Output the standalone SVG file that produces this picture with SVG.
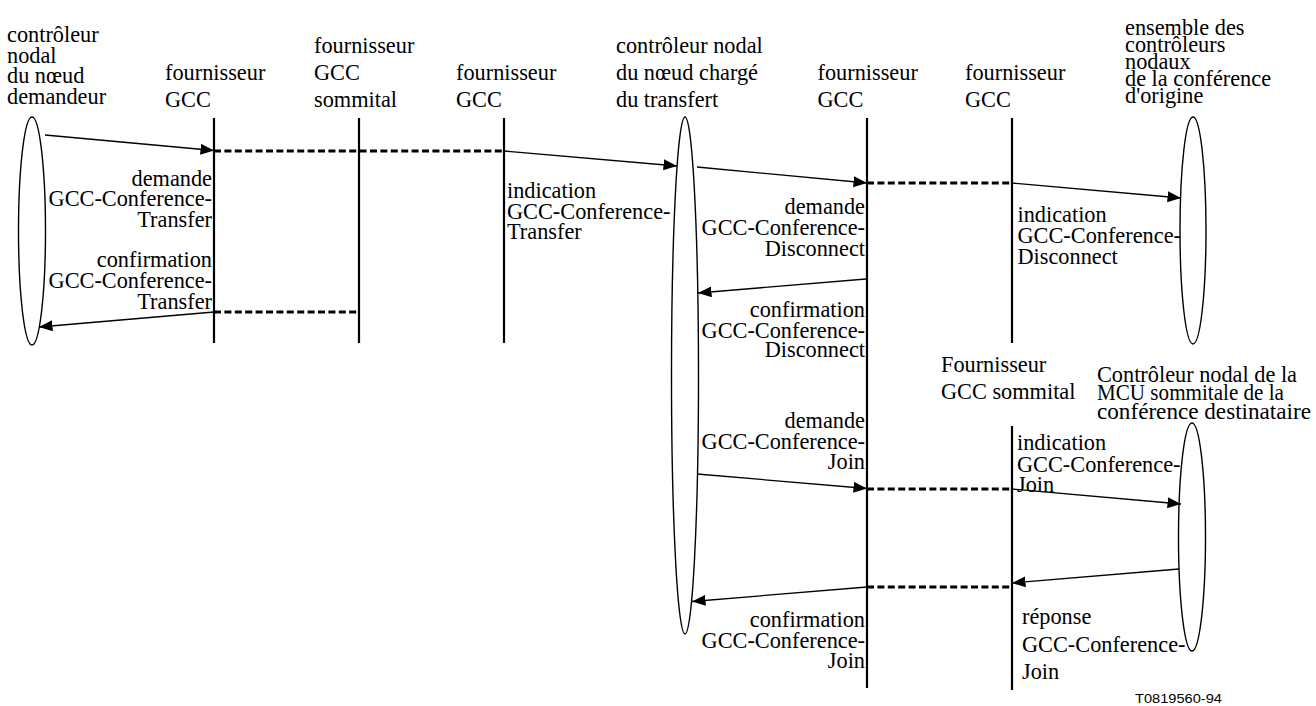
<svg xmlns="http://www.w3.org/2000/svg" width="1316" height="706" viewBox="0 0 1316 706">
  <style>
    text { font-family: "Liberation Serif", "Times New Roman", serif; font-size: 22.3px; fill: #000; }
    .r { text-anchor: end; }
    .ref { font-family: "Liberation Sans", Arial, sans-serif; font-size: 13px; }
    .life { stroke: #000; stroke-width: 2.2; fill: none; }
    .ell { stroke: #000; stroke-width: 1.4; fill: none; }
    .msg { stroke: #000; stroke-width: 1.3; fill: none; marker-end: url(#head); }
    .relay { stroke: #000; stroke-width: 3; stroke-dasharray: 7 3.4; fill: none; }
  </style>
  <defs>
    <marker id="head" markerUnits="userSpaceOnUse" markerWidth="15" markerHeight="12" refX="13.5" refY="5.5" orient="auto">
      <path d="M0,0 L13.5,5.5 L0,11 Z" fill="#000"/>
    </marker>
  </defs>
  <rect width="1316" height="706" fill="#fff"/>

  <!-- requesting node controller -->
  <g id="node-requester">
    <ellipse class="ell" cx="32" cy="231" rx="13.5" ry="114"/>
    <text x="7" y="42">contrôleur</text>
    <text x="7" y="62.5">nodal</text>
    <text x="7" y="83">du nœud</text>
    <text x="7" y="103.5">demandeur</text>
  </g>

  <!-- GCC provider next to requester -->
  <g id="gcc-provider-1">
    <line class="life" x1="214" y1="118" x2="214" y2="343"/>
    <text x="165" y="79.5">fournisseur</text>
    <text x="165" y="106.5">GCC</text>
  </g>

  <!-- top GCC provider -->
  <g id="gcc-top-provider">
    <line class="life" x1="359" y1="118" x2="359" y2="343"/>
    <text x="314" y="52.5">fournisseur</text>
    <text x="314" y="79.5">GCC</text>
    <text x="314" y="106.5">sommital</text>
  </g>

  <!-- GCC provider next to transfer node -->
  <g id="gcc-provider-2">
    <line class="life" x1="504" y1="118" x2="504" y2="343"/>
    <text x="456" y="79.5">fournisseur</text>
    <text x="456" y="106.5">GCC</text>
  </g>

  <!-- node controller in charge of the transfer -->
  <g id="node-transfer">
    <ellipse class="ell" cx="685" cy="375.5" rx="13.5" ry="258.5"/>
    <text x="616" y="52.5">contrôleur nodal</text>
    <text x="616" y="79.5">du nœud chargé</text>
    <text x="616" y="106.5">du transfert</text>
  </g>

  <!-- GCC provider of the transfer node -->
  <g id="gcc-provider-3">
    <line class="life" x1="867" y1="118" x2="867" y2="688"/>
    <text x="817.5" y="79.5">fournisseur</text>
    <text x="817.5" y="106.5">GCC</text>
  </g>

  <!-- GCC provider, origin conference -->
  <g id="gcc-provider-4">
    <line class="life" x1="1012" y1="118" x2="1012" y2="343"/>
    <text x="965" y="79.5">fournisseur</text>
    <text x="965" y="106.5">GCC</text>
  </g>

  <!-- node controllers of the origin conference -->
  <g id="origin-controllers">
    <ellipse class="ell" cx="1193" cy="230.5" rx="13" ry="113.5"/>
    <text x="1125" y="35">ensemble des</text>
    <text x="1125" y="52">contrôleurs</text>
    <text x="1125" y="69">nodaux</text>
    <text x="1125" y="86">de la conférence</text>
    <text x="1125" y="103">d'origine</text>
  </g>

  <!-- top GCC provider of the destination conference -->
  <g id="gcc-top-provider-dest">
    <line class="life" x1="1012" y1="426" x2="1012" y2="690"/>
    <text x="941" y="371.5">Fournisseur</text>
    <text x="941" y="398.5">GCC sommital</text>
  </g>

  <!-- top MCU node controller of the destination conference -->
  <g id="dest-mcu-controller">
    <ellipse class="ell" cx="1192" cy="537" rx="13.5" ry="114"/>
    <text x="1097" y="381.5" textLength="200" lengthAdjust="spacingAndGlyphs">Contrôleur nodal de la</text>
    <text x="1097" y="400" textLength="187" lengthAdjust="spacingAndGlyphs">MCU sommitale de la</text>
    <text x="1097" y="418.5" textLength="214" lengthAdjust="spacingAndGlyphs">conférence destinataire</text>
  </g>

  <!-- messages -->
  <g id="connectors">
    <!-- conference transfer -->
    <line class="msg" x1="45" y1="135" x2="214" y2="150.5"/>
    <line class="relay" x1="214" y1="151" x2="504" y2="151"/>
    <line class="msg" x1="504" y1="151" x2="677" y2="166"/>
    <line class="relay" x1="214" y1="312" x2="359" y2="312"/>
    <line class="msg" x1="214" y1="312" x2="39" y2="327"/>

    <!-- disconnect -->
    <line class="msg" x1="697" y1="167" x2="867" y2="183"/>
    <line class="relay" x1="867" y1="183" x2="1012" y2="183"/>
    <line class="msg" x1="1012" y1="183" x2="1181" y2="198"/>
    <line class="msg" x1="866" y1="279" x2="698" y2="293"/>

    <!-- join -->
    <line class="msg" x1="697" y1="474" x2="867" y2="488.5"/>
    <line class="relay" x1="867" y1="489" x2="1012" y2="489"/>
    <line class="msg" x1="1012" y1="489" x2="1181" y2="504"/>
    <line class="msg" x1="1179" y1="569" x2="1012" y2="583"/>
    <line class="relay" x1="867" y1="587" x2="1012" y2="587"/>
    <line class="msg" x1="867" y1="587" x2="692" y2="601.5"/>
  </g>

  <!-- primitive labels -->
  <g id="labels">
    <text class="r" x="212" y="185.5">demande</text>
    <text class="r" x="212" y="206">GCC-Conference-</text>
    <text class="r" x="212" y="226.5">Transfer</text>

    <text class="r" x="212" y="267">confirmation</text>
    <text class="r" x="212" y="288">GCC-Conference-</text>
    <text class="r" x="212" y="308.5">Transfer</text>

    <text x="507" y="198">indication</text>
    <text x="507" y="218.5">GCC-Conference-</text>
    <text x="507" y="239">Transfer</text>

    <text class="r" x="865" y="214">demande</text>
    <text class="r" x="865" y="235">GCC-Conference-</text>
    <text class="r" x="865" y="255.5">Disconnect</text>

    <text x="1017.5" y="222">indication</text>
    <text x="1017.5" y="243">GCC-Conference-</text>
    <text x="1017.5" y="264">Disconnect</text>

    <text class="r" x="865" y="316.5">confirmation</text>
    <text class="r" x="865" y="337.5">GCC-Conference-</text>
    <text class="r" x="865" y="357">Disconnect</text>

    <text class="r" x="865" y="427.5">demande</text>
    <text class="r" x="865" y="448.5">GCC-Conference-</text>
    <text class="r" x="865" y="469">Join</text>

    <text x="1017" y="450">indication</text>
    <text x="1017" y="471.5">GCC-Conference-</text>
    <text x="1017" y="491.5">Join</text>

    <text class="r" x="865" y="627">confirmation</text>
    <text class="r" x="865" y="648">GCC-Conference-</text>
    <text class="r" x="865" y="668">Join</text>

    <text x="1022" y="623.5">réponse</text>
    <text x="1022" y="651.5">GCC-Conference-</text>
    <text x="1022" y="678.5">Join</text>

    <text class="ref" x="1135" y="703" textLength="87" lengthAdjust="spacingAndGlyphs">T0819560-94</text>
  </g>
</svg>
